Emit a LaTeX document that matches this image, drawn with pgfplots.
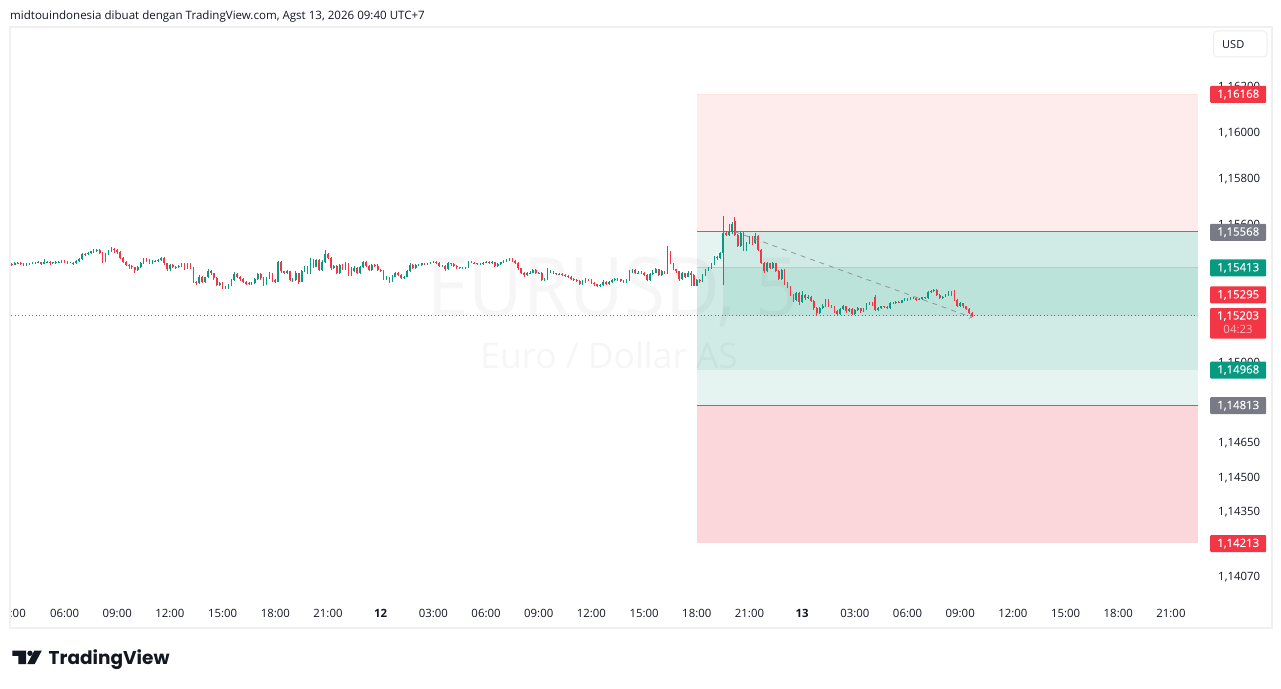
\documentclass[border=0pt]{standalone}
\usepackage{fontspec}
\usepackage{graphicx}
\setmainfont{Open Sans}
\newfontfamily\logofont{Poppins}
\newfontfamily\boxfont{Open Sans}[FakeBold=0.25]
\usepackage{pgfplots}
\usepackage{pgfplotstable}
\pgfplotsset{compat=1.18}
\definecolor{tvgreen}{HTML}{089981}
\definecolor{tvred}{HTML}{F23645}
\definecolor{tvgray}{HTML}{787B86}
\definecolor{tvtext}{HTML}{131722}
\definecolor{zoneA}{HTML}{E6F4F1}
\definecolor{zoneB}{HTML}{D0EBE5}
\definecolor{zoneC}{HTML}{BCE3DA}
\definecolor{zoneR}{HTML}{FEEBEC}
\definecolor{zoneS}{HTML}{FBD6DA}
\pgfplotstableread{
i o c l h
36 1.15428 1.15425 1.15418 1.15432
38 1.15425 1.15431 1.15422 1.15436
40 1.15431 1.15432 1.15427 1.15438
42 1.15432 1.15427 1.15423 1.15435
44 1.15427 1.15424 1.15417 1.15430
46 1.15424 1.15427 1.15420 1.15432
48 1.15427 1.15429 1.15424 1.15434
50 1.15429 1.15434 1.15426 1.15438
52 1.15434 1.15434 1.15429 1.15437
54 1.15434 1.15435 1.15431 1.15440
56 1.15435 1.15429 1.15423 1.15438
58 1.15429 1.15437 1.15426 1.15449
60 1.15437 1.15438 1.15432 1.15442
62 1.15438 1.15431 1.15424 1.15441
64 1.15431 1.15435 1.15427 1.15438
66 1.15435 1.15434 1.15428 1.15440
68 1.15434 1.15437 1.15431 1.15441
70 1.15437 1.15440 1.15434 1.15447
72 1.15440 1.15438 1.15434 1.15445
74 1.15438 1.15435 1.15429 1.15441
76 1.15435 1.15434 1.15430 1.15437
78 1.15434 1.15432 1.15425 1.15437
80 1.15432 1.15442 1.15429 1.15447
82 1.15442 1.15448 1.15438 1.15455
84 1.15448 1.15472 1.15445 1.15476
86 1.15472 1.15470 1.15462 1.15476
88 1.15470 1.15477 1.15466 1.15480
90 1.15477 1.15483 1.15473 1.15486
92 1.15483 1.15483 1.15476 1.15495
94 1.15483 1.15489 1.15480 1.15492
96 1.15489 1.15477 1.15472 1.15492
98 1.15477 1.15438 1.15434 1.15480
100 1.15438 1.15472 1.15435 1.15477
102 1.15472 1.15486 1.15468 1.15489
104 1.15486 1.15495 1.15480 1.15500
106 1.15495 1.15489 1.15477 1.15498
108 1.15489 1.15482 1.15473 1.15492
110 1.15482 1.15453 1.15448 1.15485
112 1.15453 1.15438 1.15433 1.15457
114 1.15438 1.15424 1.15419 1.15442
116 1.15424 1.15419 1.15406 1.15427
118 1.15419 1.15413 1.15405 1.15422
120 1.15413 1.15402 1.15390 1.15416
122 1.15402 1.15416 1.15398 1.15419
124 1.15416 1.15431 1.15412 1.15436
126 1.15431 1.15448 1.15428 1.15453
128 1.15448 1.15445 1.15438 1.15453
130 1.15445 1.15431 1.15426 1.15448
132 1.15431 1.15440 1.15428 1.15445
134 1.15440 1.15442 1.15436 1.15445
136 1.15442 1.15445 1.15438 1.15449
138 1.15445 1.15453 1.15442 1.15456
140 1.15453 1.15431 1.15424 1.15456
142 1.15431 1.15405 1.15399 1.15434
144 1.15405 1.15424 1.15399 1.15427
146 1.15424 1.15416 1.15410 1.15428
148 1.15416 1.15413 1.15404 1.15419
150 1.15413 1.15419 1.15410 1.15424
152 1.15419 1.15428 1.15416 1.15432
154 1.15428 1.15409 1.15403 1.15432
156 1.15409 1.15431 1.15406 1.15434
158 1.15431 1.15413 1.15405 1.15434
160 1.15413 1.15351 1.15345 1.15416
162 1.15351 1.15344 1.15338 1.15355
164 1.15344 1.15373 1.15340 1.15378
166 1.15373 1.15351 1.15345 1.15376
168 1.15351 1.15370 1.15347 1.15373
170 1.15370 1.15399 1.15366 1.15404
172 1.15399 1.15387 1.15380 1.15402
174 1.15387 1.15366 1.15360 1.15390
176 1.15366 1.15337 1.15330 1.15370
178 1.15337 1.15347 1.15330 1.15351
180 1.15347 1.15326 1.15320 1.15350
182 1.15326 1.15322 1.15318 1.15330
184 1.15322 1.15337 1.15319 1.15341
186 1.15337 1.15358 1.15334 1.15362
188 1.15358 1.15384 1.15355 1.15393
190 1.15384 1.15373 1.15368 1.15388
192 1.15373 1.15361 1.15355 1.15376
194 1.15361 1.15351 1.15346 1.15365
196 1.15351 1.15341 1.15337 1.15355
198 1.15341 1.15344 1.15338 1.15348
200 1.15344 1.15344 1.15338 1.15351
202 1.15344 1.15361 1.15340 1.15365
204 1.15361 1.15383 1.15358 1.15389
206 1.15383 1.15366 1.15360 1.15387
208 1.15366 1.15341 1.15334 1.15370
210 1.15341 1.15366 1.15337 1.15370
212 1.15366 1.15384 1.15362 1.15392
214 1.15384 1.15358 1.15351 1.15388
216 1.15358 1.15351 1.15346 1.15361
218 1.15351 1.15438 1.15348 1.15442
220 1.15438 1.15395 1.15390 1.15441
222 1.15395 1.15390 1.15384 1.15399
224 1.15390 1.15395 1.15386 1.15400
226 1.15395 1.15358 1.15353 1.15398
228 1.15358 1.15358 1.15350 1.15365
230 1.15358 1.15387 1.15354 1.15395
232 1.15387 1.15351 1.15340 1.15390
234 1.15351 1.15395 1.15348 1.15400
236 1.15395 1.15416 1.15391 1.15421
238 1.15416 1.15387 1.15382 1.15420
240 1.15387 1.15445 1.15384 1.15452
242 1.15445 1.15416 1.15411 1.15449
244 1.15416 1.15445 1.15413 1.15449
246 1.15445 1.15402 1.15396 1.15448
248 1.15402 1.15438 1.15398 1.15443
250 1.15438 1.15472 1.15434 1.15489
252 1.15472 1.15453 1.15448 1.15476
254 1.15453 1.15409 1.15403 1.15457
256 1.15409 1.15419 1.15405 1.15424
258 1.15419 1.15387 1.15382 1.15423
260 1.15387 1.15424 1.15384 1.15429
262 1.15424 1.15405 1.15400 1.15428
264 1.15405 1.15431 1.15402 1.15436
266 1.15431 1.15380 1.15375 1.15434
268 1.15380 1.15395 1.15376 1.15413
270 1.15395 1.15409 1.15391 1.15417
272 1.15409 1.15387 1.15382 1.15413
274 1.15387 1.15413 1.15384 1.15417
276 1.15413 1.15438 1.15409 1.15442
278 1.15438 1.15419 1.15413 1.15441
280 1.15419 1.15402 1.15397 1.15423
282 1.15402 1.15424 1.15399 1.15428
284 1.15424 1.15419 1.15414 1.15427
286 1.15419 1.15402 1.15398 1.15429
288 1.15402 1.15399 1.15393 1.15406
290 1.15399 1.15361 1.15356 1.15402
292 1.15361 1.15369 1.15358 1.15374
294 1.15369 1.15351 1.15347 1.15373
296 1.15351 1.15373 1.15348 1.15380
298 1.15373 1.15390 1.15370 1.15393
300 1.15390 1.15380 1.15375 1.15393
302 1.15380 1.15366 1.15361 1.15384
304 1.15366 1.15373 1.15362 1.15377
306 1.15373 1.15395 1.15370 1.15400
308 1.15395 1.15424 1.15391 1.15431
310 1.15424 1.15409 1.15404 1.15428
312 1.15409 1.15424 1.15406 1.15428
314 1.15424 1.15424 1.15419 1.15429
316 1.15424 1.15431 1.15420 1.15434
318 1.15431 1.15428 1.15423 1.15434
320 1.15428 1.15431 1.15424 1.15434
322 1.15431 1.15434 1.15427 1.15437
324 1.15434 1.15438 1.15431 1.15442
326 1.15438 1.15434 1.15429 1.15441
328 1.15434 1.15419 1.15414 1.15437
330 1.15419 1.15419 1.15413 1.15423
332 1.15419 1.15405 1.15399 1.15422
334 1.15405 1.15431 1.15402 1.15435
336 1.15431 1.15427 1.15421 1.15434
338 1.15427 1.15419 1.15413 1.15430
340 1.15419 1.15413 1.15408 1.15422
342 1.15413 1.15409 1.15404 1.15416
344 1.15409 1.15409 1.15405 1.15413
346 1.15409 1.15412 1.15406 1.15415
348 1.15412 1.15438 1.15409 1.15442
350 1.15438 1.15434 1.15430 1.15441
352 1.15434 1.15431 1.15426 1.15436
354 1.15431 1.15428 1.15424 1.15434
356 1.15428 1.15428 1.15423 1.15434
358 1.15428 1.15434 1.15425 1.15438
360 1.15434 1.15438 1.15431 1.15442
362 1.15438 1.15431 1.15426 1.15441
364 1.15431 1.15435 1.15428 1.15439
366 1.15435 1.15419 1.15414 1.15438
368 1.15419 1.15428 1.15416 1.15431
370 1.15428 1.15435 1.15425 1.15438
372 1.15435 1.15441 1.15432 1.15446
374 1.15441 1.15445 1.15438 1.15449
376 1.15445 1.15450 1.15442 1.15454
378 1.15450 1.15442 1.15438 1.15453
380 1.15442 1.15434 1.15429 1.15446
382 1.15434 1.15409 1.15403 1.15437
384 1.15409 1.15390 1.15384 1.15412
386 1.15390 1.15380 1.15373 1.15393
388 1.15380 1.15387 1.15377 1.15391
390 1.15387 1.15390 1.15383 1.15395
392 1.15390 1.15402 1.15387 1.15406
394 1.15402 1.15387 1.15382 1.15405
396 1.15387 1.15390 1.15383 1.15394
398 1.15390 1.15358 1.15352 1.15393
400 1.15358 1.15361 1.15354 1.15367
402 1.15361 1.15395 1.15358 1.15409
404 1.15395 1.15395 1.15389 1.15400
406 1.15395 1.15387 1.15382 1.15398
408 1.15387 1.15383 1.15378 1.15390
410 1.15383 1.15384 1.15379 1.15389
412 1.15384 1.15380 1.15375 1.15387
414 1.15380 1.15377 1.15372 1.15383
416 1.15377 1.15373 1.15368 1.15380
418 1.15373 1.15363 1.15358 1.15376
420 1.15363 1.15360 1.15355 1.15366
422 1.15360 1.15355 1.15350 1.15363
424 1.15355 1.15341 1.15335 1.15358
426 1.15341 1.15350 1.15338 1.15358
428 1.15350 1.15361 1.15347 1.15367
430 1.15361 1.15358 1.15352 1.15364
432 1.15358 1.15347 1.15342 1.15361
434 1.15347 1.15339 1.15334 1.15350
436 1.15339 1.15332 1.15326 1.15342
438 1.15332 1.15337 1.15328 1.15342
440 1.15337 1.15351 1.15334 1.15357
442 1.15351 1.15341 1.15335 1.15354
444 1.15341 1.15351 1.15337 1.15355
446 1.15351 1.15358 1.15347 1.15363
448 1.15358 1.15361 1.15354 1.15367
450 1.15361 1.15361 1.15355 1.15365
452 1.15361 1.15355 1.15350 1.15364
454 1.15355 1.15351 1.15346 1.15359
456 1.15351 1.15358 1.15347 1.15363
458 1.15358 1.15395 1.15355 1.15400
460 1.15395 1.15402 1.15390 1.15407
462 1.15402 1.15387 1.15382 1.15406
464 1.15387 1.15390 1.15383 1.15396
466 1.15390 1.15390 1.15384 1.15395
468 1.15390 1.15380 1.15375 1.15393
470 1.15380 1.15358 1.15352 1.15384
472 1.15358 1.15384 1.15354 1.15388
474 1.15384 1.15390 1.15380 1.15402
476 1.15390 1.15405 1.15387 1.15409
478 1.15405 1.15380 1.15375 1.15408
480 1.15380 1.15395 1.15376 1.15400
482 1.15395 1.15387 1.15382 1.15398
484 1.15387 1.15424 1.15383 1.15506
486 1.15474 1.15431 1.15426 1.15485
488 1.15431 1.15405 1.15400 1.15434
490 1.15405 1.15395 1.15389 1.15408
492 1.15395 1.15361 1.15355 1.15398
494 1.15361 1.15387 1.15357 1.15391
496 1.15387 1.15373 1.15368 1.15390
498 1.15373 1.15390 1.15369 1.15395
500 1.15390 1.15380 1.15330 1.15395
502 1.15380 1.15333 1.15330 1.15384
504 1.15333 1.15359 1.15330 1.15364
506 1.15359 1.15352 1.15345 1.15362
508 1.15352 1.15380 1.15348 1.15385
510 1.15380 1.15402 1.15376 1.15406
512 1.15402 1.15410 1.15398 1.15415
514 1.15410 1.15428 1.15406 1.15434
516 1.15428 1.15457 1.15424 1.15462
518 1.15457 1.15453 1.15446 1.15461
520 1.15453 1.15475 1.15450 1.15480
522 1.15475 1.15562 1.15337 1.15637
524 1.15562 1.15555 1.15549 1.15570
526 1.15555 1.15565 1.15550 1.15601
528 1.15565 1.15603 1.15560 1.15612
530 1.15613 1.15555 1.15550 1.15634
532 1.15555 1.15507 1.15502 1.15560
534 1.15507 1.15562 1.15503 1.15567
536 1.15562 1.15489 1.15484 1.15566
538 1.15489 1.15518 1.15484 1.15522
540 1.15518 1.15544 1.15514 1.15550
542 1.15544 1.15518 1.15512 1.15548
544 1.15518 1.15550 1.15514 1.15563
546 1.15550 1.15489 1.15483 1.15554
548 1.15489 1.15431 1.15426 1.15493
550 1.15431 1.15395 1.15390 1.15435
552 1.15395 1.15431 1.15391 1.15436
554 1.15431 1.15410 1.15404 1.15434
556 1.15410 1.15431 1.15405 1.15436
558 1.15431 1.15399 1.15393 1.15434
560 1.15399 1.15362 1.15357 1.15403
562 1.15362 1.15402 1.15358 1.15407
564 1.15402 1.15344 1.15338 1.15406
566 1.15344 1.15327 1.15321 1.15348
568 1.15327 1.15293 1.15288 1.15331
570 1.15293 1.15270 1.15262 1.15297
572 1.15270 1.15301 1.15266 1.15305
574 1.15301 1.15264 1.15250 1.15305
576 1.15264 1.15293 1.15260 1.15312
578 1.15293 1.15279 1.15273 1.15298
580 1.15279 1.15286 1.15274 1.15292
582 1.15286 1.15267 1.15262 1.15290
584 1.15267 1.15235 1.15229 1.15271
586 1.15235 1.15214 1.15205 1.15239
588 1.15214 1.15235 1.15209 1.15239
590 1.15235 1.15246 1.15230 1.15255
592 1.15246 1.15272 1.15242 1.15277
594 1.15272 1.15246 1.15240 1.15275
596 1.15246 1.15240 1.15235 1.15250
598 1.15240 1.15221 1.15216 1.15244
600 1.15221 1.15211 1.15205 1.15226
602 1.15211 1.15231 1.15207 1.15235
604 1.15231 1.15243 1.15227 1.15247
606 1.15243 1.15221 1.15216 1.15247
608 1.15221 1.15231 1.15217 1.15236
610 1.15231 1.15211 1.15204 1.15235
612 1.15211 1.15228 1.15207 1.15232
614 1.15228 1.15235 1.15224 1.15240
616 1.15235 1.15221 1.15216 1.15238
618 1.15221 1.15231 1.15217 1.15236
620 1.15231 1.15254 1.15227 1.15259
622 1.15254 1.15260 1.15250 1.15264
624 1.15260 1.15250 1.15245 1.15264
626 1.15286 1.15228 1.15221 1.15293
628 1.15228 1.15235 1.15223 1.15240
630 1.15235 1.15243 1.15231 1.15247
632 1.15243 1.15240 1.15236 1.15246
634 1.15240 1.15235 1.15231 1.15244
636 1.15235 1.15257 1.15232 1.15262
638 1.15257 1.15257 1.15253 1.15262
640 1.15257 1.15264 1.15253 1.15268
642 1.15264 1.15260 1.15256 1.15267
644 1.15260 1.15269 1.15257 1.15273
646 1.15269 1.15275 1.15265 1.15279
648 1.15275 1.15272 1.15268 1.15278
650 1.15272 1.15279 1.15269 1.15283
652 1.15279 1.15279 1.15275 1.15283
654 1.15279 1.15272 1.15268 1.15282
656 1.15272 1.15275 1.15269 1.15279
658 1.15275 1.15282 1.15272 1.15286
660 1.15282 1.15279 1.15275 1.15285
662 1.15279 1.15304 1.15276 1.15309
664 1.15304 1.15308 1.15300 1.15313
666 1.15308 1.15315 1.15305 1.15320
668 1.15315 1.15293 1.15288 1.15318
670 1.15293 1.15279 1.15274 1.15297
672 1.15279 1.15286 1.15275 1.15290
674 1.15286 1.15293 1.15283 1.15297
676 1.15293 1.15308 1.15290 1.15312
678 1.15308 1.15293 1.15288 1.15311
680 1.15312 1.15272 1.15266 1.15316
682 1.15272 1.15246 1.15240 1.15276
684 1.15246 1.15257 1.15242 1.15261
686 1.15257 1.15243 1.15238 1.15260
688 1.15243 1.15231 1.15226 1.15246
690 1.15231 1.15214 1.15208 1.15234
692 1.15214 1.15203 1.15199 1.15218
}\candles
\begin{document}
\begin{tikzpicture}[x=1pt,y=1pt]
\path[use as bounding box] (0,0) rectangle (1281,688);
\fill[white] (0,0) rectangle (1281,688);
\begin{axis}[
  at={(11pt,88pt)}, anchor=south west,
  scale only axis, width=1187pt, height=572pt,
  xmin=35.4, xmax=846.5, ymin=1.13965, ymax=1.16455,
  axis line style={draw=none}, major tick length=0pt,
  xtick={40,72,108,144,180,216,252,288,324,360,396,432,468,504,540,576,612,648,684,720,756,792,828},
  xticklabels={:00,06:00,09:00,12:00,15:00,18:00,21:00,\textbf{12},03:00,06:00,09:00,12:00,15:00,18:00,21:00,\textbf{13},03:00,06:00,09:00,12:00,15:00,18:00,21:00},
  ytick={1.1407,1.1435,1.145,1.1465,1.15,1.156,1.158,1.16,1.162},
  scaled y ticks=false,
  yticklabel pos=right,
  /pgf/number format/fixed,
  /pgf/number format/fixed zerofill,
  /pgf/number format/precision=5,
  /pgf/number format/use comma,
  /pgf/number format/1000 sep={},
  /pgf/number format/assume math mode=true,
  tick label style={font=\fontsize{11.4}{13}\selectfont, text=tvtext},
  yticklabel style={anchor=west, inner xsep=0pt, xshift=20pt, yshift=-0.8pt},
  xticklabel style={anchor=center, yshift=-13.8pt},
  clip=true,
  error bars/error mark=none,
]
% position tool zones
\addplot[draw=none,fill=zoneR,forget plot] coordinates {(504,1.16168)(846.5,1.16168)(846.5,1.15568)(504,1.15568)} --cycle;
\addplot[draw=none,fill=zoneS,forget plot] coordinates {(504,1.14813)(846.5,1.14813)(846.5,1.14213)(504,1.14213)} --cycle;
\addplot[draw=none,fill=zoneA,forget plot] coordinates {(504,1.15568)(846.5,1.15568)(846.5,1.14813)(504,1.14813)} --cycle;
\addplot[draw=none,fill=zoneB,forget plot] coordinates {(504,1.15413)(846.5,1.15413)(846.5,1.14968)(504,1.14968)} --cycle;
\addplot[draw=none,fill=zoneB,forget plot] coordinates {(522,1.15568)(846.5,1.15568)(846.5,1.15413)(522,1.15413)} --cycle;
\addplot[draw=none,fill=zoneC,forget plot] coordinates {(522,1.15413)(846.5,1.15413)(846.5,1.15203)(522,1.15203)} --cycle;
% watermark
\node[anchor=base west,inner sep=0pt,font=\fontsize{82}{82}\selectfont,text=black,text opacity=0.035] at (axis cs:319.7,1.15197) {\scalebox{0.915}[1]{EURUSD, 5}};
\node[anchor=base west,inner sep=0pt,font=\fontsize{35.3}{36}\selectfont,text=black,text opacity=0.035] at (axis cs:356,1.14971) {Euro / Dollar AS};
% tool lines
\addplot[tvgray,line width=0.9pt,forget plot] coordinates {(504,1.15568)(846.5,1.15568)};
\addplot[tvgray,line width=0.9pt,forget plot] coordinates {(504,1.14813)(846.5,1.14813)};
\addplot[color=tvgreen!15!zoneC,line width=0.7pt,forget plot] coordinates {(504,1.15413)(846.5,1.15413)};
\addplot[color=tvred!15!white,line width=0.6pt,forget plot] coordinates {(504,1.16168)(846.5,1.16168)};
\addplot[tvred,line width=0.8pt,dash pattern=on 1pt off 2.5pt,forget plot] coordinates {(35.4,1.15203)(846.5,1.15203)};
% candles
\addplot[draw=none,forget plot,error bars/.cd,y dir=plus,y explicit,error bar style={color=tvgreen,line width=0.8pt}]
  table[x expr={\thisrow{c}>=\thisrow{o}?\thisrow{i}:nan},y=l,y error plus expr={\thisrow{h}-\thisrow{l}}]{\candles};
\addplot[draw=none,forget plot,error bars/.cd,y dir=plus,y explicit,error bar style={color=tvred,line width=0.8pt}]
  table[x expr={\thisrow{c}<\thisrow{o}?\thisrow{i}:nan},y=l,y error plus expr={\thisrow{h}-\thisrow{l}}]{\candles};
\addplot[draw=none,forget plot,error bars/.cd,y dir=plus,y explicit,error bar style={color=tvgreen,line width=1.7pt}]
  table[x expr={\thisrow{c}>=\thisrow{o}?\thisrow{i}:nan},y=o,y error plus expr={\thisrow{c}-\thisrow{o}}]{\candles};
\addplot[draw=none,forget plot,error bars/.cd,y dir=plus,y explicit,error bar style={color=tvred,line width=1.7pt}]
  table[x expr={\thisrow{c}<\thisrow{o}?\thisrow{i}:nan},y=c,y error plus expr={\thisrow{o}-\thisrow{c}}]{\candles};
% trend arrow
\addplot[tvgray!80,line width=0.8pt,dash pattern=on 5pt off 5pt,->,forget plot] coordinates {(530,1.15568)(692,1.15195)};
\coordinate (a1) at (axis cs:846.5,1.16168);
\coordinate (a2) at (axis cs:846.5,1.15568);
\coordinate (a3) at (axis cs:846.5,1.15413);
\coordinate (a4) at (axis cs:846.5,1.15295);
\coordinate (a5) at (axis cs:846.5,1.15203);
\coordinate (a6) at (axis cs:846.5,1.14968);
\coordinate (a7) at (axis cs:846.5,1.14813);
\coordinate (a8) at (axis cs:846.5,1.14213);
\end{axis}
\newcommand{\pricebox}[3]{\node[anchor=west,xshift=12pt,yshift=-0.5pt,minimum width=56pt,minimum height=17pt,inner sep=0pt,rounded corners=1pt,fill=#2,text=white,align=center,font=\boxfont\fontsize{11.4}{13}\selectfont] at (#1) {#3};}
\pricebox{a1}{tvred}{1,16168}
\pricebox{a2}{tvgray}{1,15568}
\pricebox{a3}{tvgreen}{1,15413}
\pricebox{a4}{tvred}{1,15295}
\node[anchor=north west,xshift=12pt,yshift=7.8pt,minimum width=56pt,minimum height=30.5pt,inner sep=0pt,rounded corners=1pt,fill=tvred] at (a5) {};
\node[anchor=center,xshift=40pt,yshift=-0.5pt,text=white,inner sep=0pt,font=\boxfont\fontsize{11.4}{13}\selectfont] at (a5) {1,15203};
\node[anchor=center,xshift=40pt,yshift=-13.8pt,text=white!65!tvred,inner sep=0pt,font=\fontsize{11.4}{13}\selectfont] at (a5) {04:23};
\pricebox{a6}{tvgreen}{1,14968}
\pricebox{a7}{tvgray}{1,14813}
\pricebox{a8}{tvred}{1,14213}
% frame
\draw[draw=black!6,line width=1.5pt] (10.2,60) rectangle (1272,661);
\draw[draw=black!7,line width=1pt,rounded corners=4pt] (1213.5,631) rectangle (1267,657);
\node[anchor=west,inner sep=0pt,text=tvtext,font=\fontsize{11}{13}\selectfont] at (1222,643) {USD};
\node[anchor=west,inner sep=0pt,text=tvtext,font=\fontsize{11.55}{13}\selectfont] at (10,671.5) {midtouindonesia dibuat dengan TradingView.com, Agst 13, 2026 09:40 UTC+7};
% logo
\fill[tvtext] (12.3,37.3) -- (26,37.3) -- (26,24) -- (18.3,24) -- (18.3,32.2) -- (12.3,32.2) -- cycle;
\fill[tvtext] (30,34.7) circle (2.7);
\fill[tvtext] (34.3,37.3) -- (41.7,37.3) -- (34.7,24) -- (27.3,24) -- cycle;
\node[anchor=base west,inner sep=0pt,text=tvtext,font=\logofont\fontsize{18.5}{22}\selectfont\bfseries] at (48.5,24) {TradingView};
\end{tikzpicture}
\end{document}
